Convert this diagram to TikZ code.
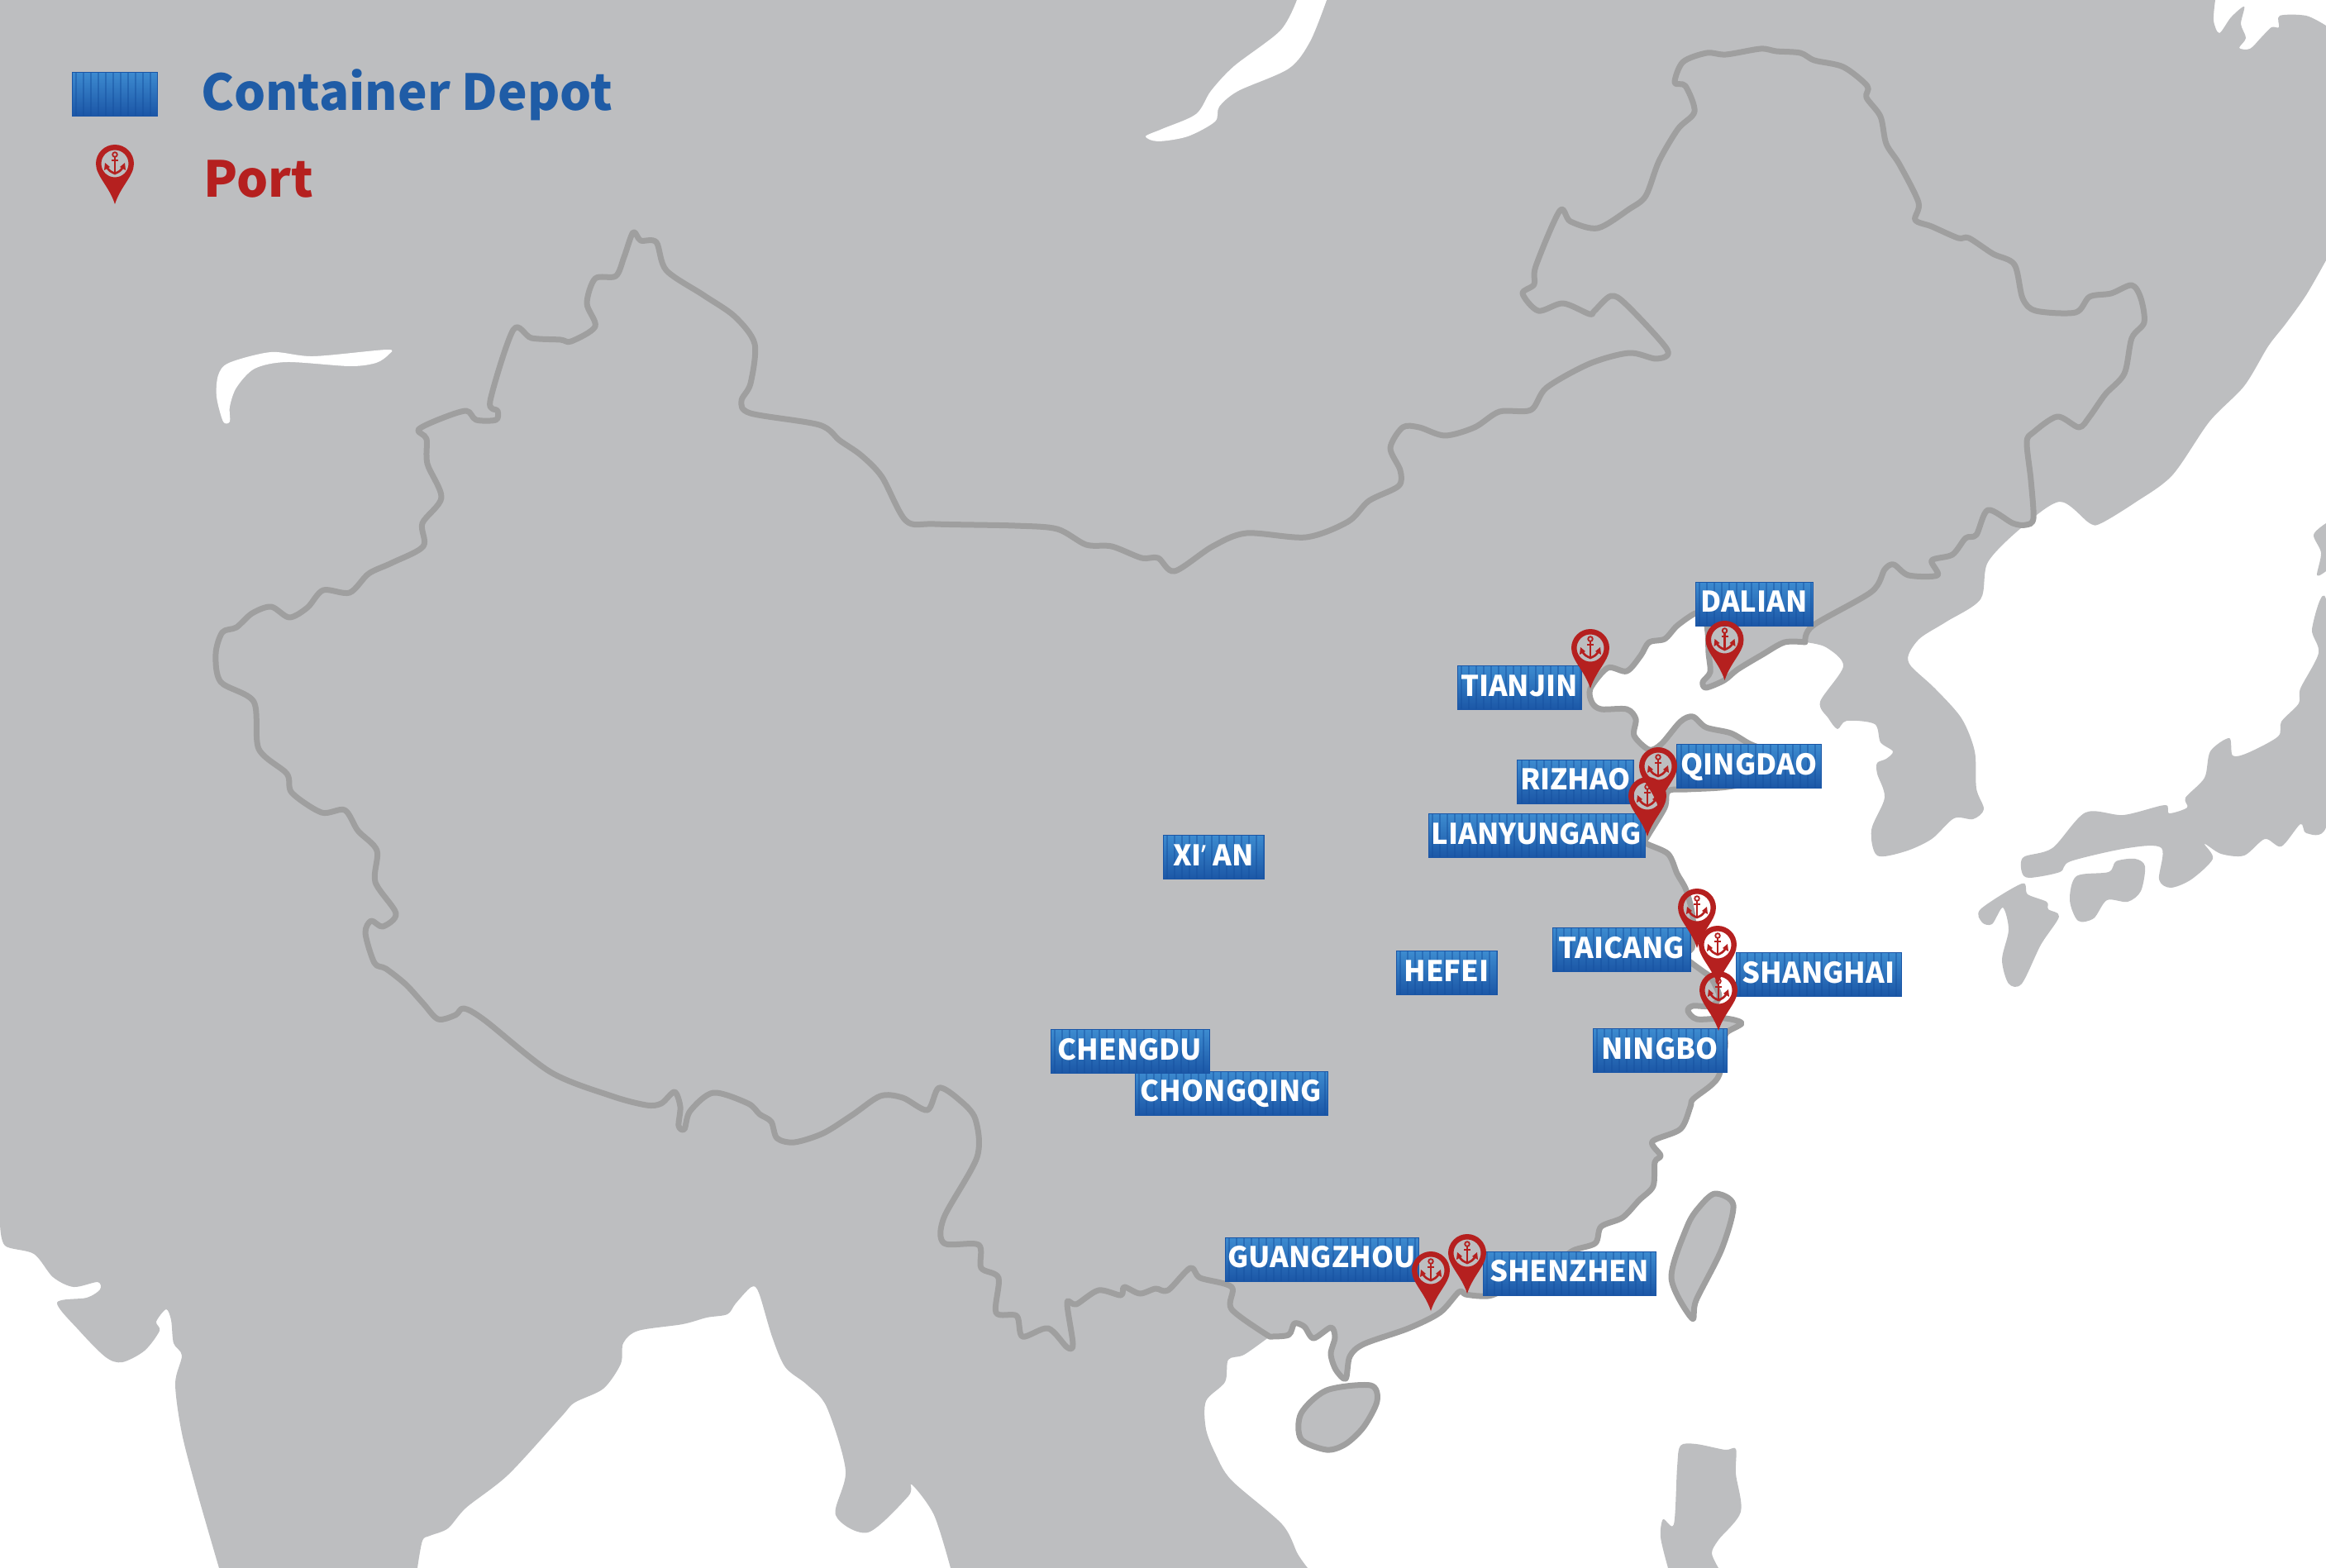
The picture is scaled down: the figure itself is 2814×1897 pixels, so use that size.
\documentclass[tikz,border=0pt]{standalone}
\usepackage{fontspec}
\setmainfont{Noto Sans CJK SC}
\newfontfamily\aposfont{Noto Sans}

\definecolor{landgray}{HTML}{BDBEC0}
\definecolor{rimgray}{HTML}{9F9F9F}
\definecolor{depotlight}{HTML}{3D8BD0}
\definecolor{depotdark}{HTML}{1B56A6}
\definecolor{depotrib}{HTML}{15509F}
\definecolor{legendblue}{HTML}{1F5CA6}
\definecolor{pinred}{HTML}{B5201F}

% 海岸线 (顺时针)
\def\coastNotch{-- plot[smooth,tension=.5] coordinates {(2680,0) (2678,25) (2685,40) (2699,21) (2715,8) (2711,29) (2717,46) (2709,58) (2722,59) (2735,46) (2748,33) (2757,33) (2758,19) (2790,19) (2814,31)}}
\def\coastNorth{-- plot[smooth,tension=.5] coordinates {(2814,315) (2790,357) (2765,392) (2744,419) (2715,467) (2673,510) (2628,575) (2583,608) (2542,633) (2528,633) (2492,607) (2446,638) (2405,680) (2396,725) (2355,752) (2323,772) (2309,792) (2312,806) (2341,833) (2373,869) (2389,909) (2391,954) (2400,979) (2387,991) (2364,990) (2337,1015) (2305,1030) (2271,1035) (2264,1004) (2280,965) (2271,936) (2271,923) (2282,918) (2290,909) (2275,898) (2268,876) (2234,872) (2223,882) (2212,869) (2202,849) (2230,806) (2209,783) (2184,777)}}
\def\coastChina#1{#1 plot[smooth,tension=.5] coordinates {(2184,777) (2159,777) (2132,792) (2102,810) (2086,823) (2064,832) (2060,825) (2069,813) (2067,790) (2066,765) (2062,745) (2051,742) (2029,757) (2014,773) (1995,777) (1985,793) (1968,812) (1945,808) (1924,833) (1926,850) (1937,858) (1968,858) (1979,870) (1977,890) (1995,907) (2010,900) (2033,873) (2048,867) (2064,880) (2094,887) (2117,900) (2150,915) (2150,940) (2090,952) (2041,955) (2018,957) (2014,977) (1993,1012) (1991,1020) (2018,1033) (2029,1057) (2040,1077) (2048,1110) (2047,1147) (2035,1152) (2040,1160) (2060,1175) (2070,1183) (2080,1205) (2070,1217) (2048,1217) (2042,1223) (2053,1233) (2087,1232) (2107,1238) (2088,1250) (2087,1267) (2080,1300) (2070,1313) (2048,1330) (2045,1339) (2033,1366) (1999,1381) (2009,1398) (2002,1406) (2000,1435) (1983,1452) (1963,1473) (1937,1484) (1930,1504) (1903,1513) (1880,1530) (1830,1555) (1805,1567) (1790,1568) (1773,1566) (1765,1563) (1742,1588) (1704,1607) (1650,1626) (1633,1641) (1628,1668) (1616,1657) (1610,1638) (1615,1618) (1610,1606) (1589,1619) (1578,1605) (1566,1601) (1559,1615) (1536,1617)}}
\def\coastSouth{-- plot[smooth,tension=.5] coordinates {(1536,1617) (1505,1639) (1486,1645) (1482,1672) (1459,1695) (1459,1729) (1471,1760) (1490,1791) (1551,1844) (1570,1880) (1582,1897)}}
\def\coastBengal{-- plot[smooth,tension=.5] coordinates {(1150,1897) (1130,1833) (1103,1796) (1099,1810) (1050,1854) (1011,1833) (1023,1779) (1000,1702) (976,1675) (950,1654) (934,1617) (918,1564) (909,1557) (890,1577) (880,1590) (855,1594) (826,1602) (772,1610) (754,1625) (751,1650) (730,1680) (695,1697) (679,1714) (615,1784) (564,1824) (542,1849) (520,1858) (511,1864) (505,1897)}}
\def\coastWest{-- plot[smooth,tension=.5] coordinates {(265,1897) (239,1807) (220,1734) (212,1674) (220,1640) (210,1625) (207,1597) (201,1584) (189,1599) (193,1610) (175,1634) (148,1648) (128,1642) (96,1610) (69,1576) (105,1570) (121,1560) (118,1551) (89,1557) (64,1545) (41,1517) (6,1507) (0,1480)}}

% 国界 (从广西沿海向西, 再向北, 到丹东)
\def\borderChina{-- plot[smooth,tension=.5] coordinates {(1536,1617) (1490,1584) (1490,1557) (1452,1546) (1440,1534) (1413,1561) (1398,1559) (1379,1565) (1360,1557) (1356,1567) (1329,1561) (1302,1578) (1291,1576) (1298,1626) (1291,1630) (1268,1607) (1237,1617) (1230,1592) (1205,1588) (1208,1546) (1187,1534) (1184,1506) (1142,1504) (1142,1473) (1182,1400) (1180,1354) (1161,1331) (1136,1316) (1122,1343) (1092,1328) (1065,1326) (1031,1349) (996,1371) (961,1382) (940,1377) (933,1357) (919,1348) (905,1335) (863,1322) (835,1344) (828,1366) (821,1362) (823,1339) (816,1321) (800,1335) (782,1337) (740,1326) (666,1297) (586,1234) (561,1220) (551,1228) (530,1233) (512,1214) (491,1191) (467,1172) (453,1165) (442,1129) (449,1114) (463,1121) (479,1105) (454,1067) (456,1029) (433,1005) (417,980) (389,983) (353,959) (347,936) (313,906) (307,849) (267,825) (261,791) (269,765) (286,759) (305,742) (328,734) (350,747) (372,735) (391,714) (423,717) (446,694) (474,681) (512,661) (511,633) (534,602) (517,561) (516,531) (506,520) (532,507) (564,497) (576,508) (600,508) (602,497) (593,485) (621,399) (643,409) (678,411) (691,413) (720,395) (710,367) (720,337) (745,334) (755,311) (766,281) (775,291) (794,293) (806,327) (851,357) (889,383) (913,416) (908,464) (897,485) (908,500) (991,514) (1016,533) (1042,551) (1067,577) (1096,630) (1131,634) (1228,636) (1279,640) (1314,659) (1345,661) (1381,675) (1401,675) (1421,691) (1467,661) (1508,645) (1580,650) (1631,631) (1656,606) (1692,588) (1694,569) (1682,542) (1697,517) (1717,517) (1748,527) (1784,517) (1814,498) (1852,496) (1871,469) (1923,440) (1971,427) (2004,434) (2017,423) (1968,369) (1949,358) (1929,376) (1923,380) (1891,367) (1861,376) (1842,355) (1856,344) (1858,322) (1887,255) (1900,268) (1933,276) (1971,253) (1991,237) (2007,195) (2030,156) (2050,135) (2039,104) (2026,100) (2036,75) (2065,64) (2088,66) (2130,59) (2149,62) (2178,64) (2195,73) (2230,81) (2259,104) (2258,118) (2275,141) (2282,174) (2298,199) (2321,245) (2317,266) (2337,274) (2369,288) (2382,288) (2411,307) (2437,320) (2447,361) (2463,376) (2511,378) (2528,359) (2554,355) (2579,345) (2590,361) (2594,390) (2579,409) (2570,452) (2547,477) (2528,504) (2515,517) (2489,504) (2460,523) (2452,535) (2457,581) (2460,627) (2451,635) (2435,633) (2405,617) (2391,647) (2378,651) (2362,671) (2337,678) (2344,696) (2309,696) (2291,683) (2280,689) (2264,716) (2193,757) (2184,777)}}

\tikzset{
  land/.style={fill=landgray},
  sea/.style={fill=white},
  rim/.style={draw=rimgray, line width=7pt, line join=round},
  depot/.style={rectangle, minimum height=53pt, inner sep=0pt, top color=depotlight, bottom color=depotdark,
    draw=depotdark, line width=1pt, text=white, text height=25pt, text depth=4.6pt,
    font=\fontsize{34.5}{34.5}\selectfont\bfseries,
    path picture={
      \foreach \i in {0,...,29}
        \draw[depotrib, opacity=.45, line width=2pt] ([xshift=\i*9pt+5pt]path picture bounding box.south west) -- ([xshift=\i*9pt+5pt]path picture bounding box.north west);
    }},
  legendtext/.style={anchor=base west, inner sep=0pt, font=\fontsize{60}{60}\selectfont\bfseries},
  portpin/.pic={
    \fill[pinred, even odd rule, y=1pt] (0,0) .. controls (-7,22) and (-23,34) .. (-23,49) arc (180:0:23) .. controls (23,34) and (7,22) .. (0,0) -- cycle (0,49) circle (16.5);
    \draw[pinred, line width=1.8pt, y=1pt] (0,60) circle (2.8);
    \draw[pinred, line width=2.6pt, y=1pt] (0,57) -- (0,38) (-4,53) -- (4,53);
    \draw[pinred, line width=2.6pt, y=1pt] (-10,46) .. controls (-8,40) and (-4,39) .. (0,37) .. controls (4,39) and (8,40) .. (10,46);
    \fill[pinred, y=1pt] (-13,41) -- (-12,50) -- (-6,45) -- cycle (13,41) -- (12,50) -- (6,45) -- cycle;
  }
}

\begin{document}
\begin{tikzpicture}[x=1pt, y=-1pt]
  \useasboundingbox (0,0) rectangle (2814,1897);

  % 陆地
  \fill[land] (0,0) \coastNotch -- (2814,315) \coastNorth \coastChina{--} \coastSouth -- (1150,1897) \coastBengal -- (265,1897) \coastWest -- cycle;

  % 岛屿
  \fill[land] plot[smooth cycle,tension=.5] coordinates {(2814,725) (2797,761) (2805,790) (2783,833) (2781,851) (2760,873) (2756,891) (2719,911) (2701,914) (2697,893) (2674,909) (2667,941) (2644,965) (2646,977) (2624,984) (2619,974) (2569,986) (2523,983) (2483,1026) (2448,1037) (2446,1055) (2455,1062) (2492,1055) (2505,1042) (2574,1026) (2615,1026) (2612,1064) (2626,1074) (2651,1064) (2677,1039) (2667,1021) (2687,1033) (2715,1035) (2740,1015) (2760,1024) (2783,997) (2790,1008) (2814,1001) (2830,900)};
  \fill[land] plot[smooth cycle,tension=.5] coordinates {(2512,1060) (2551,1055) (2560,1042) (2583,1039) (2595,1048) (2590,1078) (2574,1091) (2549,1089) (2533,1111) (2514,1114) (2504,1089)};
  \fill[land] plot[smooth cycle,tension=.5] coordinates {(2396,1100) (2446,1069) (2453,1082) (2476,1091) (2478,1100) (2491,1109) (2469,1143) (2446,1190) (2430,1190) (2422,1161) (2430,1125) (2423,1098) (2410,1118) (2398,1116)};
  \fill[land] plot[smooth,tension=.5] coordinates {(2814,633) (2799,647) (2808,669) (2803,696) (2814,691)} -- cycle;
  \fill[land] plot[smooth,tension=.5] coordinates {(2018,1897) (2009,1860) (2012,1838) (2025,1844) (2029,1775) (2033,1749) (2052,1747) (2087,1754) (2100,1753) (2100,1783) (2106,1829) (2079,1863) (2071,1879) (2079,1897)} -- cycle;
  \filldraw[land, rim] plot[smooth cycle,tension=.5] coordinates {(2075,1444) (2097,1458) (2083,1511) (2052,1573) (2047,1595) (2022,1546) (2041,1484) (2056,1460)};
  \filldraw[land, rim] plot[smooth cycle,tension=.5] coordinates {(1605,1682) (1658,1676) (1666,1695) (1650,1726) (1628,1747) (1605,1754) (1574,1741) (1574,1710)};

  % 湖
  \fill[sea] plot[smooth,tension=.5] coordinates {(1569,0) (1549,37) (1493,80) (1465,110) (1447,138) (1406,156) (1386,165) (1401,171) (1437,165) (1470,147) (1475,129) (1498,110) (1559,83) (1585,50) (1605,0)} -- cycle;
  \fill[sea] plot[smooth cycle,tension=.5] coordinates {(277,439) (328,426) (379,431) (468,423) (470,429) (455,439) (423,443) (347,438) (308,446) (286,469) (278,492) (278,510) (270,510) (262,480) (264,454)};

  % 中国轮廓
  \draw[rim] \coastChina{} \borderChina -- cycle;

  % 集装箱
  \node[depot, minimum width=103pt] (depotkey) at (138.5,114) {};
  \node[depot, minimum width=142pt] (dalian) at (2122,730.5) {DALIAN};
  \node[depot, minimum width=150pt] (tianjin) at (1838,832) {TIANJIN};
  \node[depot, minimum width=141pt] (rizhao) at (1906,945.5) {RIZHAO};
  \node[depot, minimum width=175pt] (qingdao) at (2116,927) {QINGDAO};
  \node[depot, minimum width=262pt] (lianyungang) at (1859,1011) {LIANYUNGANG};
  \node[depot, minimum width=167pt] (taicang) at (1961.5,1149) {TAICANG};
  \node[depot, minimum width=200pt] (shanghai) at (2200,1179) {SHANGHAI};
  \node[depot, minimum width=162pt] (ningbo) at (2008,1271) {NINGBO};
  \node[depot, minimum width=122pt] (hefei) at (1750,1177) {HEFEI};
  \node[depot, minimum width=122pt] (xian) at (1468,1037) {XI{\aposfont\bfseries ’} AN};
  \node[depot, minimum width=233pt] (chongqing) at (1489.5,1322.5) {CHONGQING};
  \node[depot, minimum width=192pt] (chengdu) at (1367,1272) {CHENGDU};
  \node[depot, minimum width=234pt] (guangzhou) at (1599,1523.5) {GUANGZHOU};
  \node[depot, minimum width=209pt] (shenzhen) at (1898.5,1540.5) {SHENZHEN};

  % 港口
  \pic at (139,247) {portpin};
  \pic at (1924,833) {portpin};
  \pic at (2086.5,823) {portpin};
  \pic at (1993,1012) {portpin};
  \pic at (2006,976) {portpin};
  \pic at (2079,1247) {portpin};
  \pic at (2078,1192) {portpin};
  \pic at (2053,1147) {portpin};
  \pic at (1731,1586) {portpin};
  \pic at (1775,1565) {portpin};

  % 图例
  \node[legendtext, text=legendblue] (depotlabel) at (243,134) {Container Depot};
  \node[legendtext, text=pinred] (portlabel) at (246,239) {Port};

\end{tikzpicture}
\end{document}
